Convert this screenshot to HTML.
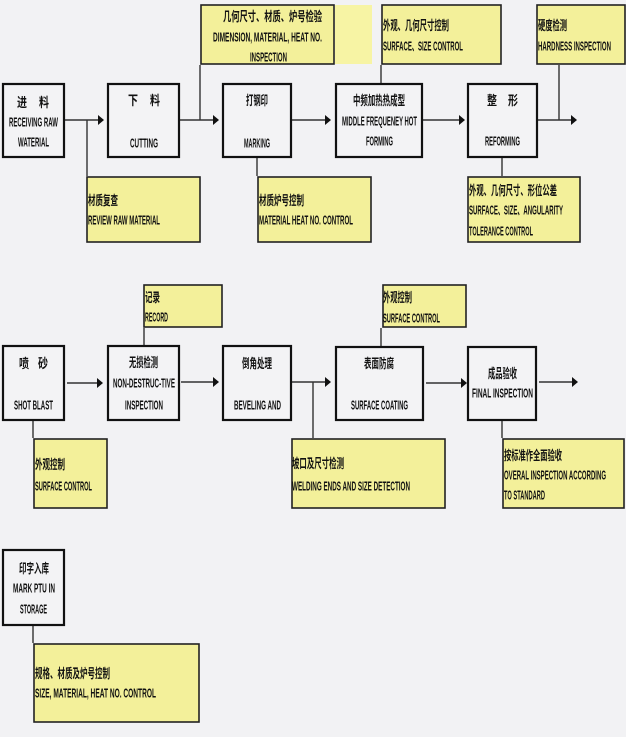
<!DOCTYPE html>
<html>
<head>
<meta charset="utf-8">
<style>
html,body{margin:0;padding:0;background:#f2f2f4;}
svg{display:block;}
.t{font-family:"Liberation Sans","Noto Sans CJK SC",sans-serif;font-size:12.8px;font-weight:bold;fill:#111;}
.c{font-family:"Liberation Sans","Noto Sans CJK SC",sans-serif;font-size:13px;font-weight:bold;fill:#111;}
.bx{fill:#f3f3f5;stroke:#111;stroke-width:2.2;}
.yb{fill:#f3f09a;stroke:#222;stroke-width:1.6;}
.ln{stroke:#333;stroke-width:1.4;fill:none;}
.ah{fill:#111;}
</style>
</head>
<body>
<svg width="626" height="737" viewBox="0 0 626 737" xmlns="http://www.w3.org/2000/svg">
<rect x="0" y="0" width="626" height="737" fill="#f2f2f4"/>

<!-- ===== connectors top row ===== -->
<line class="ln" x1="65" y1="120" x2="100" y2="120"/>
<polygon class="ah" points="98,115 104,120 98,125"/>
<line class="ln" x1="87" y1="120" x2="87" y2="176"/>

<line class="ln" x1="180" y1="120" x2="215" y2="120"/>
<polygon class="ah" points="213,115 219,120 213,125"/>
<line class="ln" x1="200" y1="65" x2="200" y2="120"/>

<line class="ln" x1="292" y1="120" x2="327" y2="120"/>
<polygon class="ah" points="325,115 331,120 325,125"/>
<line class="ln" x1="257" y1="158" x2="257" y2="176"/>

<line class="ln" x1="423" y1="120" x2="460" y2="120"/>
<polygon class="ah" points="459,115 465,120 459,125"/>
<line class="ln" x1="381" y1="65" x2="381" y2="83"/>

<line class="ln" x1="538" y1="120" x2="573" y2="120"/>
<polygon class="ah" points="571,115 577,120 571,125"/>
<line class="ln" x1="559" y1="65" x2="559" y2="120"/>
<line class="ln" x1="502" y1="158" x2="502" y2="176"/>

<!-- ===== connectors middle row ===== -->
<line class="ln" x1="67" y1="383" x2="98" y2="383"/>
<polygon class="ah" points="97,378 103,383 97,388"/>
<line class="ln" x1="33" y1="421" x2="33" y2="438"/>

<line class="ln" x1="181" y1="382" x2="214" y2="382"/>
<polygon class="ah" points="213,377 219,382 213,387"/>
<line class="ln" x1="144" y1="328" x2="144" y2="345"/>

<line class="ln" x1="292" y1="382" x2="326" y2="382"/>
<polygon class="ah" points="325,377 331,382 325,387"/>
<line class="ln" x1="313" y1="382" x2="313" y2="438"/>

<line class="ln" x1="426" y1="383" x2="462" y2="383"/>
<polygon class="ah" points="461,378 467,383 461,388"/>
<line class="ln" x1="381" y1="328" x2="381" y2="346"/>

<line class="ln" x1="539" y1="382" x2="573" y2="382"/>
<polygon class="ah" points="572,377 578,382 572,387"/>
<line class="ln" x1="502" y1="421" x2="502" y2="438"/>

<!-- bottom -->
<line class="ln" x1="33" y1="626" x2="33" y2="643"/>

<!-- ===== process boxes ===== -->
<rect class="bx" x="3" y="84" width="61" height="73"/>
<rect class="bx" x="108" y="84" width="71" height="73"/>
<rect class="bx" x="223" y="84" width="68" height="73"/>
<rect class="bx" x="336" y="84" width="86" height="73"/>
<rect class="bx" x="468" y="84" width="69" height="73"/>

<rect class="bx" x="3" y="346" width="61" height="74"/>
<rect class="bx" x="108" y="346" width="71" height="74"/>
<rect class="bx" x="223" y="346" width="68" height="74"/>
<rect class="bx" x="336" y="347" width="87" height="73"/>
<rect class="bx" x="468" y="347" width="68" height="73"/>

<rect class="bx" x="3" y="550" width="61" height="75"/>

<!-- ===== yellow boxes ===== -->
<rect x="335" y="5" width="37" height="59" fill="#f7f4a4"/>
<rect class="yb" x="87" y="177" width="113" height="65"/>
<rect class="yb" x="201" y="5" width="133" height="59"/>
<rect class="yb" x="258" y="177" width="113" height="65"/>
<rect class="yb" x="382" y="5" width="119" height="59"/>
<rect class="yb" x="537" y="5" width="88" height="59"/>
<rect class="yb" x="468" y="177" width="112" height="65"/>

<rect class="yb" x="144" y="285" width="78" height="42"/>
<rect class="yb" x="383" y="285" width="83" height="42"/>
<rect class="yb" x="34" y="439" width="73" height="69"/>
<rect class="yb" x="292" y="439" width="153" height="69"/>
<rect class="yb" x="503" y="439" width="121" height="69"/>

<rect class="yb" x="34" y="644" width="165" height="78"/>

<!-- ===== text: top row boxes ===== -->
<text class="c" x="17" y="107" textLength="10" lengthAdjust="spacingAndGlyphs">进</text>
<text class="c" x="39" y="107" textLength="10" lengthAdjust="spacingAndGlyphs">料</text>
<text class="t" x="9" y="126.5" textLength="49" lengthAdjust="spacingAndGlyphs">RECEIVING RAW</text>
<text class="t" x="18" y="146.5" textLength="31" lengthAdjust="spacingAndGlyphs">WATERIAL</text>

<text class="c" x="128" y="105" textLength="10" lengthAdjust="spacingAndGlyphs">下</text>
<text class="c" x="150" y="105" textLength="10" lengthAdjust="spacingAndGlyphs">料</text>
<text class="t" x="130" y="147.5" textLength="28" lengthAdjust="spacingAndGlyphs">CUTTING</text>

<text class="c" x="246" y="105" textLength="22" lengthAdjust="spacingAndGlyphs">打钢印</text>
<text class="t" x="244" y="147.5" textLength="26" lengthAdjust="spacingAndGlyphs">MARKING</text>

<text class="c" x="353" y="105" textLength="52" lengthAdjust="spacingAndGlyphs">中频加热热成型</text>
<text class="t" x="342" y="125.5" textLength="75" lengthAdjust="spacingAndGlyphs">MIDDLE FREQUENEY HOT</text>
<text class="t" x="366" y="145.5" textLength="27" lengthAdjust="spacingAndGlyphs">FORMING</text>

<text class="c" x="487" y="105" textLength="10" lengthAdjust="spacingAndGlyphs">整</text>
<text class="c" x="508" y="105" textLength="10" lengthAdjust="spacingAndGlyphs">形</text>
<text class="t" x="485" y="145.5" textLength="35" lengthAdjust="spacingAndGlyphs">REFORMING</text>

<!-- top row yellow -->
<text class="c" x="223" y="21" textLength="99" lengthAdjust="spacingAndGlyphs">几何尺寸、材质、炉号检验</text>
<text class="t" x="213" y="41.5" textLength="109" lengthAdjust="spacingAndGlyphs">DIMENSION, MATERIAL, HEAT NO.</text>
<text class="t" x="250" y="61.5" textLength="37" lengthAdjust="spacingAndGlyphs">INSPECTION</text>

<text class="c" x="383" y="30" textLength="66" lengthAdjust="spacingAndGlyphs">外观、几何尺寸控制</text>
<text class="t" x="383" y="50.5" textLength="80" lengthAdjust="spacingAndGlyphs">SURFACE、SIZE CONTROL</text>

<text class="c" x="538" y="30" textLength="29" lengthAdjust="spacingAndGlyphs">硬度检测</text>
<text class="t" x="538" y="50.5" textLength="73" lengthAdjust="spacingAndGlyphs">HARDNESS INSPECTION</text>

<text class="c" x="88" y="205" textLength="30" lengthAdjust="spacingAndGlyphs">材质复查</text>
<text class="t" x="88" y="224.5" textLength="72" lengthAdjust="spacingAndGlyphs">REVIEW RAW MATERIAL</text>

<text class="c" x="259" y="205" textLength="45" lengthAdjust="spacingAndGlyphs">材质炉号控制</text>
<text class="t" x="259" y="224.5" textLength="94" lengthAdjust="spacingAndGlyphs">MATERIAL HEAT NO. CONTROL</text>

<text class="c" x="469" y="195" textLength="88" lengthAdjust="spacingAndGlyphs">外观、几何尺寸、形位公差</text>
<text class="t" x="469" y="214.5" textLength="94" lengthAdjust="spacingAndGlyphs">SURFACE、SIZE、ANGULARITY</text>
<text class="t" x="469" y="235.5" textLength="64" lengthAdjust="spacingAndGlyphs">TOLERANCE CONTROL</text>

<!-- ===== text: middle row boxes ===== -->
<text class="c" x="19" y="368" textLength="10" lengthAdjust="spacingAndGlyphs">喷</text>
<text class="c" x="38" y="368" textLength="10" lengthAdjust="spacingAndGlyphs">砂</text>
<text class="t" x="14" y="409.5" textLength="39" lengthAdjust="spacingAndGlyphs">SHOT BLAST</text>

<text class="c" x="129" y="367" textLength="29" lengthAdjust="spacingAndGlyphs">无损检测</text>
<text class="t" x="113" y="387.5" textLength="62" lengthAdjust="spacingAndGlyphs">NON-DESTRUC-TIVE</text>
<text class="t" x="125" y="409.5" textLength="38" lengthAdjust="spacingAndGlyphs">INSPECTION</text>

<text class="c" x="242" y="368" textLength="30" lengthAdjust="spacingAndGlyphs">倒角处理</text>
<text class="t" x="234" y="409.5" textLength="47" lengthAdjust="spacingAndGlyphs">BEVELING AND</text>

<text class="c" x="364" y="368" textLength="30" lengthAdjust="spacingAndGlyphs">表面防腐</text>
<text class="t" x="351" y="409.5" textLength="57" lengthAdjust="spacingAndGlyphs">SURFACE COATING</text>

<text class="c" x="488" y="378" textLength="29" lengthAdjust="spacingAndGlyphs">成品验收</text>
<text class="t" x="472" y="397.5" textLength="61" lengthAdjust="spacingAndGlyphs">FINAL INSPECTION</text>

<!-- middle row yellow -->
<text class="c" x="145" y="302" textLength="15" lengthAdjust="spacingAndGlyphs">记录</text>
<text class="t" x="145" y="321.5" textLength="23" lengthAdjust="spacingAndGlyphs">RECORD</text>

<text class="c" x="383" y="302" textLength="29" lengthAdjust="spacingAndGlyphs">外观控制</text>
<text class="t" x="383" y="322.5" textLength="57" lengthAdjust="spacingAndGlyphs">SURFACE CONTROL</text>

<text class="c" x="35" y="469" textLength="30" lengthAdjust="spacingAndGlyphs">外观控制</text>
<text class="t" x="35" y="490.5" textLength="57" lengthAdjust="spacingAndGlyphs">SURFACE CONTROL</text>

<text class="c" x="292" y="468" textLength="52" lengthAdjust="spacingAndGlyphs">坡口及尺寸检测</text>
<text class="t" x="292" y="490.5" textLength="118" lengthAdjust="spacingAndGlyphs">WELDING ENDS AND SIZE DETECTION</text>

<text class="c" x="504" y="460" textLength="58" lengthAdjust="spacingAndGlyphs">按标准作全面验收</text>
<text class="t" x="504" y="479.5" textLength="102" lengthAdjust="spacingAndGlyphs">OVERAL INSPECTION ACCORDING</text>
<text class="t" x="504" y="499.5" textLength="41" lengthAdjust="spacingAndGlyphs">TO STANDARD</text>

<!-- ===== bottom ===== -->
<text class="c" x="19" y="573" textLength="30" lengthAdjust="spacingAndGlyphs">印字入库</text>
<text class="t" x="13" y="592.5" textLength="42" lengthAdjust="spacingAndGlyphs">MARK PTU IN</text>
<text class="t" x="20" y="613.5" textLength="27" lengthAdjust="spacingAndGlyphs">STORAGE</text>

<text class="c" x="35" y="678" textLength="75" lengthAdjust="spacingAndGlyphs">规格、材质及炉号控制</text>
<text class="t" x="35" y="697.5" textLength="121" lengthAdjust="spacingAndGlyphs">SIZE, MATERIAL, HEAT NO. CONTROL</text>
</svg>
</body>
</html>
